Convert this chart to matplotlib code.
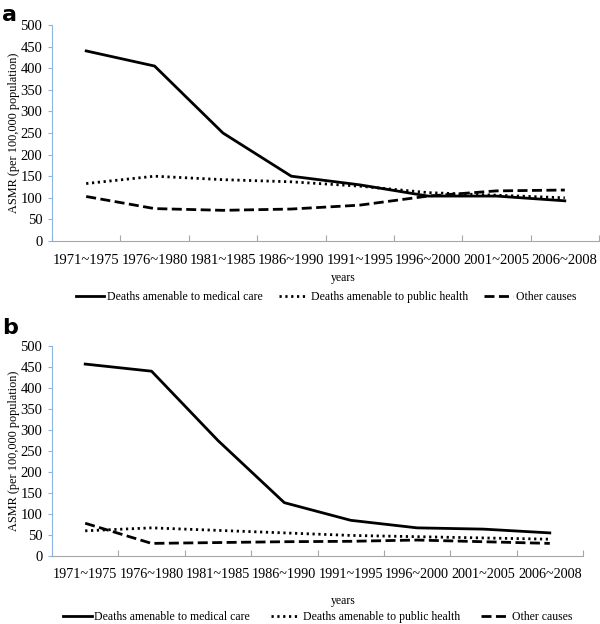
import numpy as np
import matplotlib
matplotlib.use("Agg")
import matplotlib.pyplot as plt

plt.rcParams['font.family'] = ['Liberation Serif', 'DejaVu Serif']

periods = ["1971~1975", "1976~1980", "1981~1985", "1986~1990",
           "1991~1995", "1996~2000", "2001~2005", "2006~2008"]

# panel a
a_medical = [440, 405, 250, 150, 130, 104, 104, 93]
a_public = [133, 150, 142, 137, 127, 112, 106, 100]
a_other = [103, 75, 71, 74, 83, 104, 116, 118]

# panel b
b_medical = [457, 440, 275, 127, 85, 67, 64, 55]
b_public = [60, 67, 61, 55, 49, 46, 43, 40]
b_other = [78, 30, 32, 34, 35, 38, 34, 30]

series_names = ["Deaths amenable to medical care",
                "Deaths amenable to public health",
                "Other causes"]
styles = [dict(ls="-", lw=2), dict(ls=(0, (0.8, 1.3)), lw=2),
          dict(ls=(0, (3.6, 1.6)), lw=2)]

W, H = 600, 624


def fx(px):
    return px / W


def fy(py):
    return 1 - py / H


def draw_panel(ax, values, letter, letter_y, years_y, xfs):
    x = np.arange(len(periods))
    for v, name, st in zip(values, series_names, styles):
        ax.plot(x, v, color="black", label=name, **st)
    ax.set_xlim(-0.5, len(periods) - 0.5)
    ax.set_ylim(0, 500)
    ax.set_yticks(np.arange(0, 501, 50))
    ax.set_xticks(np.arange(-0.5, len(periods)), minor=False)
    ax.set_xticklabels([])
    ax.set_xticks(x, minor=True)
    ax.set_xticklabels(periods, minor=True, fontsize=xfs)
    ax.tick_params(axis="x", which="minor", length=0, pad=9)
    ax.tick_params(axis="x", which="major", length=4, color="#a6a6a6", direction="in")
    ax.tick_params(axis="y", length=3, color="#8eb4e3", labelsize=10.5, pad=4)
    for s in ["top", "right"]:
        ax.spines[s].set_visible(False)
    ax.spines["left"].set_color("#8eb4e3")
    ax.spines["bottom"].set_color("#a6a6a6")
    ax.set_xlabel("years", fontsize=8.5)
    ax.xaxis.set_label_coords(fx(343), fy(years_y), transform=fig.transFigure)
    ax.xaxis.label.set_va("center")
    ax.set_ylabel("ASMR (per 100,000 population)", fontsize=8.8)
    fig.text(fx(2), fy(letter_y), letter, fontsize=16, fontweight="bold",
             family="DejaVu Sans", va="center", ha="left")
    return ax


fig = plt.figure(figsize=(6, 6.24), dpi=100)
ax1 = fig.add_axes([fx(52), fy(241), fx(599) - fx(52), fy(25) - fy(241)])
ax2 = fig.add_axes([fx(52), fy(556), fx(583) - fx(52), fy(346) - fy(556)])

draw_panel(ax1, [a_medical, a_public, a_other], "a", 15, 278, 10.5)
draw_panel(ax2, [b_medical, b_public, b_other], "b", 328, 601, 10.2)
ax1.yaxis.set_label_coords(fx(14), fy(133), transform=fig.transFigure)
ax2.yaxis.set_label_coords(fx(14), fy(451), transform=fig.transFigure)
for ax in (ax1, ax2):
    ax.yaxis.label.set_va("center")

h1, l1 = ax1.get_legend_handles_labels()
fig.legend(h1, l1, loc="center", bbox_to_anchor=(fx(326), fy(297)), ncol=3,
           frameon=False, fontsize=8.5, handlelength=2.4, handletextpad=0.25,
           columnspacing=1.4, borderpad=0, borderaxespad=0)
h2, l2 = ax2.get_legend_handles_labels()
fig.legend(h2, l2, loc="center", bbox_to_anchor=(fx(318), fy(617)), ncol=3,
           frameon=False, fontsize=8.5, handlelength=2.4, handletextpad=0.25,
           columnspacing=1.8, borderpad=0, borderaxespad=0)

fig.savefig("out.png", dpi=100)
